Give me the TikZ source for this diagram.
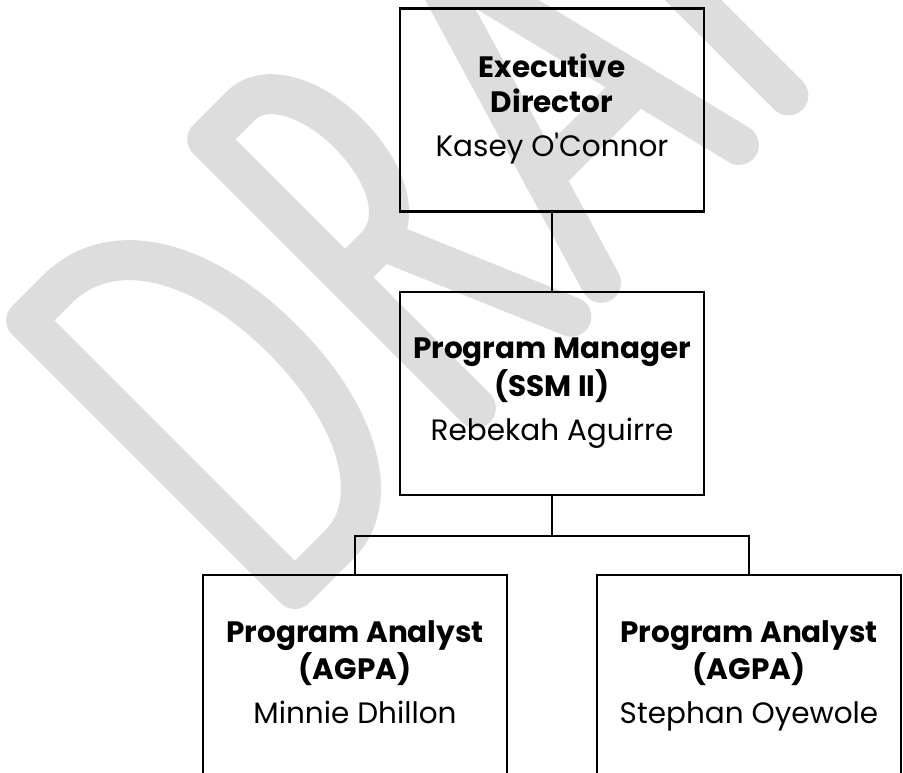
\documentclass[tikz,border=0pt]{standalone}
\usepackage{fontspec}
\setmainfont{Poppins}
\usetikzlibrary{positioning}
\definecolor{wmark}{HTML}{DDDDDD}
\tikzset{
  post/.style={draw, line width=2.2pt, minimum width=304pt, minimum height=203pt,
    inner sep=0pt, align=center, font=\fontsize{29.5}{32}\selectfont},
  link/.style={line width=2.2pt},
  stamp/.style={wmark, line width=40pt, line cap=round, line join=round}
}

\begin{document}
\begin{tikzpicture}[x=1pt,y=1pt]
  \useasboundingbox (0,0) rectangle (903,772);
  \fill[white] (0,0) rectangle (903,772);
  \clip (0,0) rectangle (903,772);

  % watermark letters, baseline tilted up at 45 degrees
  \begin{scope}[shift={(0,772)},rotate=45]
    % D
    \draw[stamp] (-208,-245) -- (-165,-245) .. controls (-85,-245) and (-40,-330) .. (-40,-440)
      .. controls (-40,-550) and (-85,-625) .. (-145,-625) -- (-208,-625) -- cycle;
    % R
    \draw[stamp] (48,-625) -- (48,-245) -- (95,-245) .. controls (130,-245) and (152,-290) .. (152,-340)
      .. controls (152,-395) and (130,-440) .. (90,-440) -- (48,-440);
    \draw[stamp] (100,-440) -- (180,-628);
    % A
    \draw[stamp] (225,-625) -- (332,-265) -- (420,-625);
    \draw[stamp] (259,-510) -- (392,-510);
    % F
    \draw[stamp] (490,-625) -- (490,-245) -- (630,-245);
    \draw[stamp] (490,-440) -- (610,-440);
  \end{scope}

  % boxes
  \node[post] (ed) at (552,662)
    {\strut\textbf{Executive}\\\textbf{Director}\\[12pt]Kasey O\textquotesingle Connor\strut};
  \node[post, below=78pt of ed] (mgr)
    {\strut\textbf{Program Manager}\\\textbf{(SSM II)}\\[12pt]Rebekah Aguirre\strut};
  \node[post, below=78pt of mgr, xshift=-197pt] (pa1)
    {\strut\textbf{Program Analyst}\\\textbf{(AGPA)}\\[12pt]Minnie Dhillon\strut};
  \node[post, below=78pt of mgr, xshift=197pt] (pa2)
    {\strut\textbf{Program Analyst}\\\textbf{(AGPA)}\\[12pt]Stephan Oyewole\strut};

  % reporting lines
  \draw[link] (ed) -- (mgr);
  \draw[link] (mgr.south) -- ++(0,-40pt) coordinate (bus) -| (pa1.north);
  \draw[link] (bus) -| (pa2.north);
\end{tikzpicture}
\end{document}
